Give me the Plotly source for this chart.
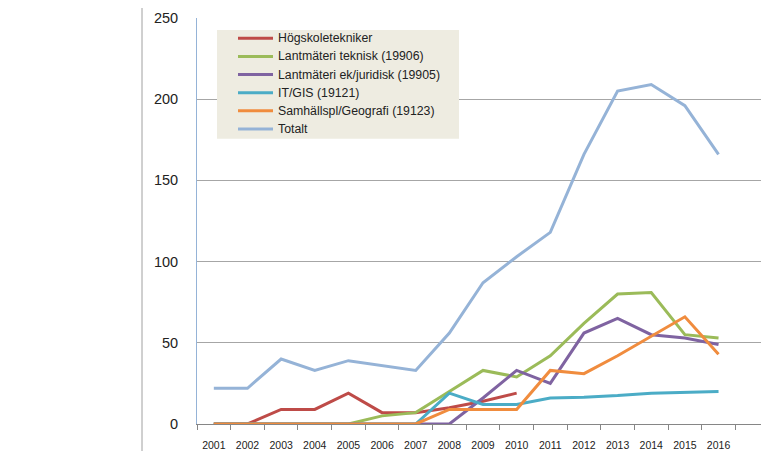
import plotly.graph_objects as go

years = list(range(2001, 2017))
year_labels = [str(y) for y in years]

hogskoletekniker = [0, 0, 9, 9, 19, 7, 7, 10, 14, 19, None, None, None, None, None, None]
lantmateri_teknisk = [0, 0, 0, 0, 0, 5, 7, 20, 33, 29, 42, 62, 80, 81, 55, 53]
lantmateri_ekjur = [0, 0, 0, 0, 0, 0, 0, 0, 16, 33, 25, 56, 65, 55, 53, 49]
it_gis = [0, 0, 0, 0, 0, 0, 0, 19, 12, 12, 16, 16.5, 17.5, 19, 19.5, 20]
samhallspl = [0, 0, 0, 0, 0, 0, 0, 9, 9, 9, 33, 31, 42, 54, 66, 43]
totalt = [22, 22, 40, 33, 39, 36, 33, 56, 87, 103, 118, 166, 205, 209, 196, 166]

series = [
    ("Högskoletekniker", hogskoletekniker, "#be4b48"),
    ("Lantmäteri teknisk (19906)", lantmateri_teknisk, "#9bbb59"),
    ("Lantmäteri ek/juridisk (19905)", lantmateri_ekjur, "#7f63a1"),
    ("IT/GIS (19121)", it_gis, "#4bacc6"),
    ("Samhällspl/Geografi (19123)", samhallspl, "#f08c3e"),
    ("Totalt", totalt, "#95b3d7"),
]

# plot area on screen: x 197..769, y 18..428 (page has an 8px body margin)
PX0, PX1, PY0, PY1 = 197.0, 769.0, 18.0, 428.0


def px(x):
    return (x - PX0) / (PX1 - PX0)


def py(y):
    return (PY1 - y) / (PY1 - PY0)


fig = go.Figure()
for name, vals, col in series:
    fig.add_trace(go.Scatter(x=years, y=vals, name=name, mode="lines",
                             line=dict(color=col, width=3), connectgaps=False,
                             showlegend=False))

fig.update_layout(
    width=761, height=443,
    margin=dict(l=189, r=0, t=10, b=23),
    paper_bgcolor="white", plot_bgcolor="white",
    font=dict(family="Liberation Sans, Arial, sans-serif", color="#333333"),
    showlegend=False,
    xaxis=dict(range=[2000.5, 2017.5], tickmode="array", tickvals=years,
               ticktext=year_labels, ticks="", showgrid=False,
               showline=True, linecolor="#868686", linewidth=1,
               tickfont=dict(size=10.5, color="#222222"),
               ticklabelstandoff=11, zeroline=False,
               minor=dict(tickmode="linear", tick0=2000.5, dtick=1,
                          ticks="outside", ticklen=5, tickcolor="#868686",
                          showgrid=False)),
    yaxis=dict(range=[0, 250], tickmode="linear", tick0=0, dtick=50,
               showgrid=True, gridcolor="#a6a6a6", gridwidth=1,
               showline=True, linecolor="#95b3d7", linewidth=1,
               ticks="", tickfont=dict(size=14.5, color="#222222"),
               ticklabelstandoff=15, zeroline=False),
)

# outer frame line on the left
fig.add_shape(type="line", xref="paper", yref="paper",
              x0=px(142), x1=px(142), y0=py(460), y1=py(-10),
              line=dict(color="#a0a0a0", width=1))

# legend box
fig.add_shape(type="rect", xref="paper", yref="paper",
              x0=px(217), x1=px(459), y0=py(140), y1=py(30),
              fillcolor="#eeece1", line=dict(width=0), layer="above")
for i, (name, vals, col) in enumerate(series):
    yy = 38.5 + 18.3 * i
    fig.add_shape(type="line", xref="paper", yref="paper",
                  x0=px(238), x1=px(273), y0=py(yy), y1=py(yy),
                  line=dict(color=col, width=3), layer="above")
    fig.add_annotation(xref="paper", yref="paper", x=px(275.5), y=py(yy),
                       text=name, showarrow=False, xanchor="left",
                       yanchor="middle",
                       font=dict(size=12.3, color="#222222"))

fig.write_html("out.html")
